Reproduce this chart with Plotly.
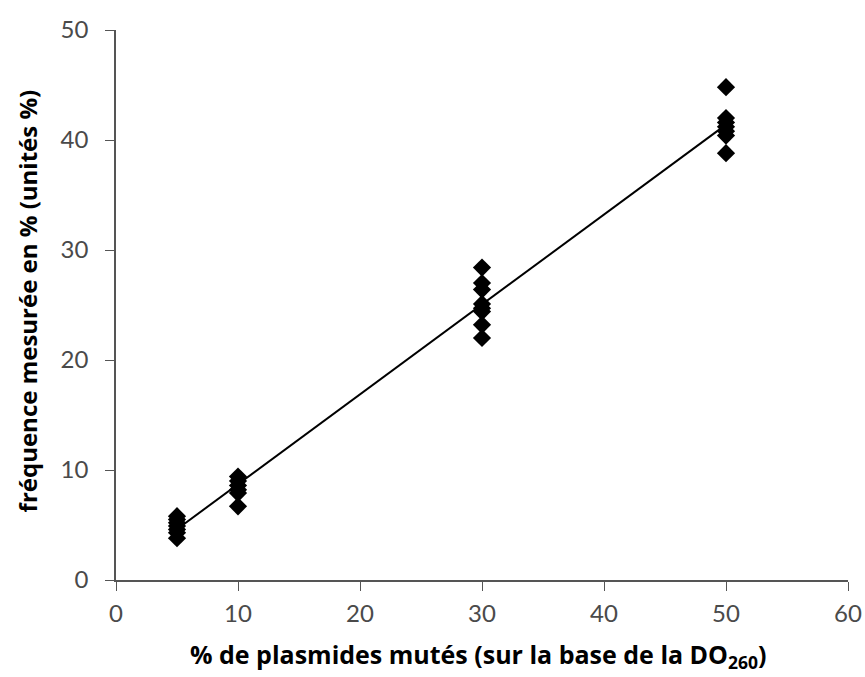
import numpy as np
import plotly.graph_objects as go

# Data
x_5 = [5, 5, 5, 5, 5, 5, 5]
y_5 = [5.8, 5.5, 5.2, 4.9, 4.6, 4.3, 3.8]
x_10 = [10, 10, 10, 10, 10, 10]
y_10 = [9.4, 9.0, 8.6, 8.2, 7.9, 6.7]
x_30 = [30, 30, 30, 30, 30, 30, 30, 30]
y_30 = [28.4, 27.0, 26.4, 25.1, 24.7, 24.4, 23.2, 22.0]
x_50 = [50, 50, 50, 50, 50, 50, 50]
y_50 = [44.8, 42.0, 41.6, 41.2, 40.8, 40.4, 38.8]

x_all = x_5 + x_10 + x_30 + x_50
y_all = y_5 + y_10 + y_30 + y_50

x_ticks = [0, 10, 20, 30, 40, 50, 60]
y_ticks = [0, 10, 20, 30, 40, 50]

x_title = "<b>% de plasmides mutés (sur la base de la DO<sub>260</sub>)</b>"
y_title = "<b>fréquence mesurée en % (unités %)</b>"

# linear regression line between the extreme levels
slope, intercept = np.polyfit(x_all, y_all, 1)
fit_x = [min(x_all), max(x_all)]
fit_y = [slope * v + intercept for v in fit_x]

fig = go.Figure()
fig.add_trace(go.Scatter(
    x=fit_x, y=fit_y, mode="lines",
    line=dict(color="black", width=2), showlegend=False, hoverinfo="skip"))
fig.add_trace(go.Scatter(
    x=x_all, y=y_all, mode="markers",
    marker=dict(symbol="diamond", size=14, color="black"),
    showlegend=False))

tick_font = dict(family="Lato, DejaVu Sans, sans-serif", size=24, color="#4a4a4a")
title_font = dict(family="Open Sans, DejaVu Sans, sans-serif", size=25, color="black")

fig.update_layout(
    width=865, height=677,
    margin=dict(l=116, r=17, t=30, b=97, autoexpand=False),
    plot_bgcolor="white", paper_bgcolor="white",
    xaxis=dict(
        range=[0, 60], tickvals=x_ticks, ticktext=[str(v) for v in x_ticks],
        showgrid=False, zeroline=False, showline=True, linecolor="#555555", linewidth=1.8,
        ticks="outside", ticklen=9, tickcolor="#555555", tickwidth=1.2,
        tickfont=tick_font, automargin=False, ticklabelstandoff=2,
    ),
    yaxis=dict(
        range=[0, 50], tickvals=y_ticks, ticktext=[str(v) for v in y_ticks],
        showgrid=False, zeroline=False, showline=True, linecolor="#555555", linewidth=1.5,
        ticks="outside", ticklen=9, tickcolor="#555555", tickwidth=1.2,
        tickfont=tick_font, automargin=False, ticklabelstandoff=12,
    ),
    annotations=[
        dict(text=x_title, xref="paper", yref="paper", x=0.495, y=-0.138,
             xanchor="center", yanchor="middle", showarrow=False, font=title_font),
        dict(text=y_title, xref="paper", yref="paper", x=-0.1205, y=0.508,
             xanchor="center", yanchor="middle", textangle=-90, showarrow=False,
             font=dict(family="Open Sans, DejaVu Sans, sans-serif", size=24, color="black")),
    ],
)

fig.write_html(
    "out.html",
    config={"displayModeBar": False},
    post_script="document.body.style.margin='0';document.body.style.overflow='hidden';",
)
